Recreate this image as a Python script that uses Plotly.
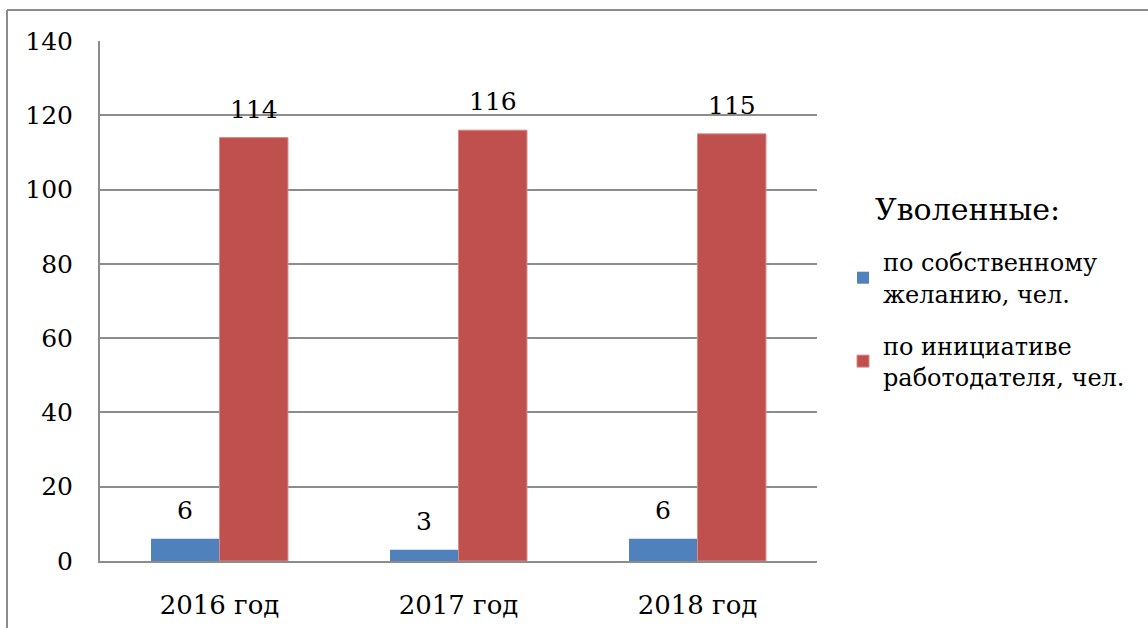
import plotly.graph_objects as go

# Dismissed employees by year
years = ["2016 год", "2017 год", "2018 год"]
own_wish = [6, 3, 6]
employer_initiative = [114, 116, 115]

series_names = ["по собственному<br>желанию, чел.", "по инициативе<br>работодателя, чел."]
legend_title = "Уволенные:"
y_ticks = [0, 20, 40, 60, 80, 100, 120, 140]

FONT = "DejaVu Serif"
BLUE = "#4F81BD"
RED = "#C0504D"
GRID = "#8C8C8C"

BARGAP = 0.427

fig = go.Figure()
fig.add_trace(go.Bar(x=years, y=own_wish, name=series_names[0], legendgroup="own",
                     marker=dict(color=BLUE, line=dict(width=0))))
fig.add_trace(go.Bar(x=years, y=employer_initiative, name=series_names[1], legendgroup="employer",
                     marker=dict(color=RED, line=dict(width=1, color="#D98A88"))))

# value labels above each bar
bar_w = (1 - BARGAP) / 2
for i in range(len(years)):
    for vals, off in ((own_wish, -bar_w / 2), (employer_initiative, bar_w / 2)):
        fig.add_annotation(x=i + off, y=vals[i], text=str(vals[i]),
                           showarrow=False, yanchor="bottom", yshift=12,
                           font=dict(family=FONT, size=25, color="black"))

fig.add_annotation(xref="paper", yref="paper", x=(873 - 100) / 717, y=(561 - 210) / 520,
                   text=legend_title, showarrow=False, xanchor="left", yanchor="middle",
                   font=dict(family=FONT, size=30, color="black"))

# outer frame (top and left edges)
fx = (7 - 100) / 717
fy = (561 - 10) / 520
fig.add_shape(type="line", xref="paper", yref="paper", x0=fx, x1=(1150 - 100) / 717,
              y0=fy, y1=fy, line=dict(color="#8C8C8C", width=2))
fig.add_shape(type="line", xref="paper", yref="paper", x0=fx, x1=fx,
              y0=fy, y1=(561 - 630) / 520, line=dict(color="#8C8C8C", width=2))

fig.update_layout(
    width=1148, height=628,
    margin=dict(l=100, r=331, t=41, b=67),
    paper_bgcolor="white", plot_bgcolor="white",
    barmode="group", bargap=BARGAP, bargroupgap=0,
    font=dict(family=FONT, size=25, color="black"),
    showlegend=True,
    legend=dict(x=(843 - 100) / 717, y=(561 - 240) / 520, xanchor="left", yanchor="top",
                font=dict(family=FONT, size=24, color="black"),
                tracegroupgap=18, bgcolor="rgba(0,0,0,0)"),
    xaxis=dict(showgrid=False, showline=True, linecolor=GRID, linewidth=2,
               ticks="", ticklabelstandoff=20, automargin=False,
               tickfont=dict(family=FONT, size=26)),
    yaxis=dict(range=[0, 140], tickvals=y_ticks, showgrid=True, gridcolor=GRID,
               gridwidth=2, showline=True, linecolor=GRID, linewidth=2,
               zeroline=False, ticks="", ticklabelstandoff=20, automargin=False,
               tickfont=dict(family=FONT, size=25)),
)

fig.write_html("out.html")
